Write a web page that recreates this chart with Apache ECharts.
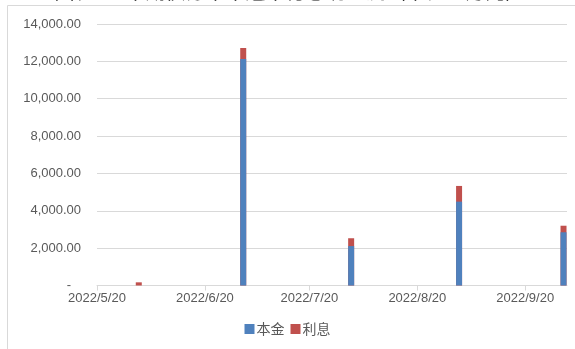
<!DOCTYPE html>
<html>
<head>
<meta charset="utf-8">
<script src="https://cdn.jsdelivr.net/npm/echarts@6/dist/echarts.min.js"></script>
<style>
  html, body { margin: 0; padding: 0; background: #fff; }
  #chart { width: 575px; height: 349px; }
</style>
</head>
<body>
<div id="chart"></div>
<script>
// Cash-flow dates (payments fall on the 1st of each month)
const payDates = ['2022-06-01', '2022-07-01', '2022-08-01', '2022-09-01', '2022-10-01'];
// Principal and interest per payment date
const principal = [0, 12130, 2110, 4490, 2850];
const interest = [170, 590, 420, 840, 350];
// Date ticks along the horizontal axis
const tickDates = ['2022-05-20', '2022-06-20', '2022-07-20', '2022-08-20', '2022-09-20'];
const seriesNames = ['本金', '利息'];
const titleText = '图表3：本期债券未来还本付息现金流（单位：万元）';

// Dates are placed on a linear day scale (UTC timestamps in days)
const day = s => Date.parse(s + 'T00:00:00Z') / 86400000;
const tickDays = tickDates.map(day);

const chart = echarts.init(document.getElementById('chart'));
const labelColor = '#595959';
const lineColor = '#d9d9d9';

// Interest sits on top of principal: the red column reaches the payment total,
// and the principal column is painted over its lower part.
const principalData = payDates.map((d, i) => [day(d), principal[i]]);
const totalData = payDates.map((d, i) => [day(d), principal[i] + interest[i]]);

chart.setOption({
  animation: false,
  textStyle: { fontFamily: '"Liberation Sans", "Noto Sans CJK SC", sans-serif' },
  graphic: [
    {
      type: 'rect',
      shape: { x: 7.5, y: 5.5, width: 600, height: 400 },
      style: { fill: null, stroke: lineColor, lineWidth: 1 },
      silent: true
    },
    {
      type: 'text',
      x: 290,
      y: 1,
      style: {
        text: titleText,
        font: '20px "Noto Sans CJK SC", sans-serif',
        fill: '#000',
        align: 'center',
        verticalAlign: 'bottom'
      },
      silent: true
    }
  ],
  grid: { left: 97, right: 8, top: 24, bottom: 63.5 },
  legend: {
    bottom: 8,
    left: 'center',
    icon: 'rect',
    itemWidth: 10,
    itemHeight: 10,
    itemGap: 6,
    textStyle: { color: labelColor, fontSize: 14, fontFamily: '"Noto Sans CJK SC", sans-serif', padding: [0, 0, 0, -3] },
    data: seriesNames
  },
  xAxis: {
    type: 'value',
    min: day('2022-05-20'),
    max: day('2022-10-02'),
    axisLine: { show: true, lineStyle: { color: lineColor } },
    axisTick: { show: true, length: 5, lineStyle: { color: lineColor }, customValues: tickDays },
    splitLine: { show: false },
    axisLabel: {
      customValues: tickDays,
      color: labelColor,
      fontSize: 13,
      margin: 6,
      formatter: v => {
        const d = new Date(v * 86400000);
        return d.getUTCFullYear() + '/' + (d.getUTCMonth() + 1) + '/' + d.getUTCDate();
      }
    }
  },
  yAxis: {
    type: 'value',
    min: 0,
    max: 14000,
    interval: 2000,
    axisLine: { show: false },
    axisTick: { show: false },
    splitLine: { lineStyle: { color: lineColor } },
    axisLabel: {
      color: labelColor,
      fontSize: 13,
      margin: 16,
      formatter: v => v === 0 ? '{z|-}' : v.toLocaleString('en-US', { minimumFractionDigits: 2, maximumFractionDigits: 2 }),
      rich: { z: { color: labelColor, fontSize: 13, padding: [0, 10, 0, 0] } }
    }
  },
  series: [
    {
      name: seriesNames[1],
      type: 'bar',
      barWidth: 6,
      barGap: '-100%',
      itemStyle: { color: '#C0504D' },
      data: totalData
    },
    {
      name: seriesNames[0],
      type: 'bar',
      barWidth: 6,
      barGap: '-100%',
      itemStyle: { color: '#4F81BD' },
      data: principalData
    }
  ]
});
</script>
</body>
</html>
